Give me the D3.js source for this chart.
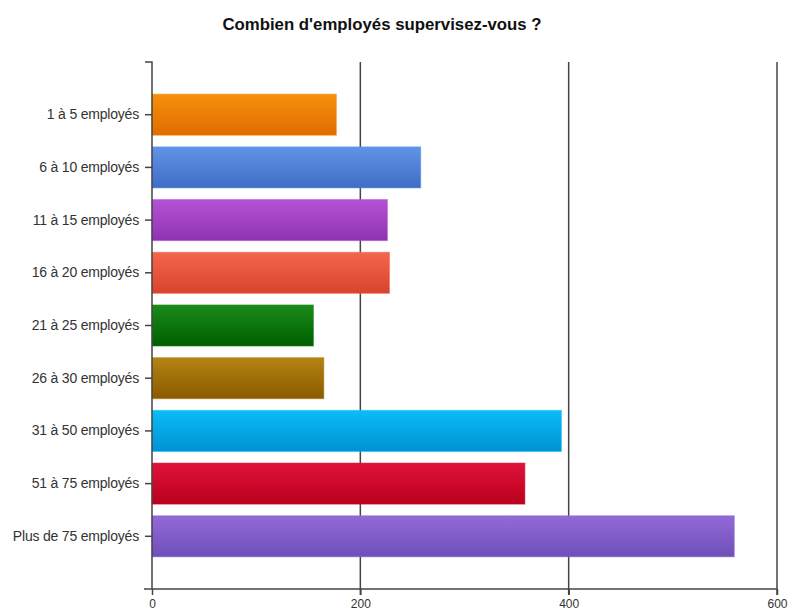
<!DOCTYPE html>
<html><head><meta charset="utf-8">
<script src="https://cdn.jsdelivr.net/npm/d3@7"></script>
<style>body{margin:0;background:#fff}</style>
</head><body><svg id="c" width="791" height="611"></svg>
<script>
const title = "Combien d'employés supervisez-vous ?";
const categories = ["1 à 5 employés","6 à 10 employés","11 à 15 employés","16 à 20 employés","21 à 25 employés","26 à 30 employés","31 à 50 employés","51 à 75 employés","Plus de 75 employés"];
const values = [177, 258, 226, 228, 155, 165, 393, 358, 559];
const xTicks = [0, 200, 400, 600];
const colorsTop = ["#f7900c","#6193e6","#b552d6","#f4664e","#1a8c1a","#b48414","#0abcf8","#e01239","#936ad8"];
const colorsBottom = ["#e06c00","#3f6ec6","#8f33b0","#d9432d","#005e00","#8a5a00","#0092d2","#b9001f","#6f4fb8"];

const svg = d3.select("#c");
const mLeft = 152, mRight = 777, mTop = 62, mBottom = 589;
const x = d3.scaleLinear().domain([0, 600]).range([mLeft, mRight]);
const y = d3.scaleBand().domain(categories).range([mTop, mBottom]).paddingInner(0.22).paddingOuter(0.61);

const defs = svg.append("defs");
categories.forEach((c, i) => {
  const g = defs.append("linearGradient").attr("id", "g" + i).attr("x1", 0).attr("y1", 0).attr("x2", 0).attr("y2", 1);
  g.append("stop").attr("offset", "0%").attr("stop-color", colorsTop[i]);
  g.append("stop").attr("offset", "100%").attr("stop-color", colorsBottom[i]);
});

svg.append("text").attr("x", 382).attr("y", 30).attr("text-anchor", "middle")
  .attr("font-family", "Liberation Sans, Arial, sans-serif").attr("font-weight", "bold").attr("font-size", 16.8)
  .attr("fill", "#111").text(title);

// gridlines
svg.append("g").selectAll("line").data(xTicks.filter(d => d > 0)).join("line")
  .attr("x1", d => x(d)).attr("x2", d => x(d)).attr("y1", mTop).attr("y2", mBottom + 6)
  .attr("stroke", "#444").attr("stroke-width", 1.5);

// bars
svg.append("g").selectAll("rect").data(values).join("rect")
  .attr("x", x(0)).attr("y", (d, i) => y(categories[i]))
  .attr("width", d => x(d) - x(0)).attr("height", y.bandwidth())
  .attr("fill", (d, i) => `url(#g${i})`)
  .attr("stroke", (d, i) => colorsTop[i]).attr("stroke-opacity", 0.5).attr("stroke-width", 1);

// y axis
const yAxis = d3.axisLeft(y).tickSize(7).tickPadding(6);
const ya = svg.append("g").attr("transform", `translate(${mLeft},0)`).call(yAxis);
ya.select(".domain").remove();
ya.selectAll(".tick line").attr("stroke", "#444").attr("stroke-width", 1.5);
ya.selectAll(".tick text").attr("font-family", "Liberation Sans, Arial, sans-serif").attr("font-size", 14).attr("fill", "#333").attr("letter-spacing", "-0.2");
svg.append("path").attr("d", `M${mLeft - 7},${mTop}H${mLeft}V${mBottom}`).attr("fill", "none").attr("stroke", "#444").attr("stroke-width", 1.5);

// x axis
const xAxis = d3.axisBottom(x).tickValues(xTicks).tickSize(6).tickPadding(4).tickSizeOuter(0);
const xa = svg.append("g").attr("transform", `translate(0,${mBottom})`).call(xAxis);
xa.select(".domain").remove();
xa.selectAll(".tick line").attr("stroke", "#444").attr("stroke-width", 1.5);
xa.selectAll(".tick text").attr("font-family", "Liberation Sans, Arial, sans-serif").attr("font-size", 12).attr("fill", "#333");
svg.append("line").attr("x1", mLeft - 8).attr("x2", mRight).attr("y1", mBottom).attr("y2", mBottom).attr("stroke", "#444").attr("stroke-width", 1.5);
</script></body></html>
